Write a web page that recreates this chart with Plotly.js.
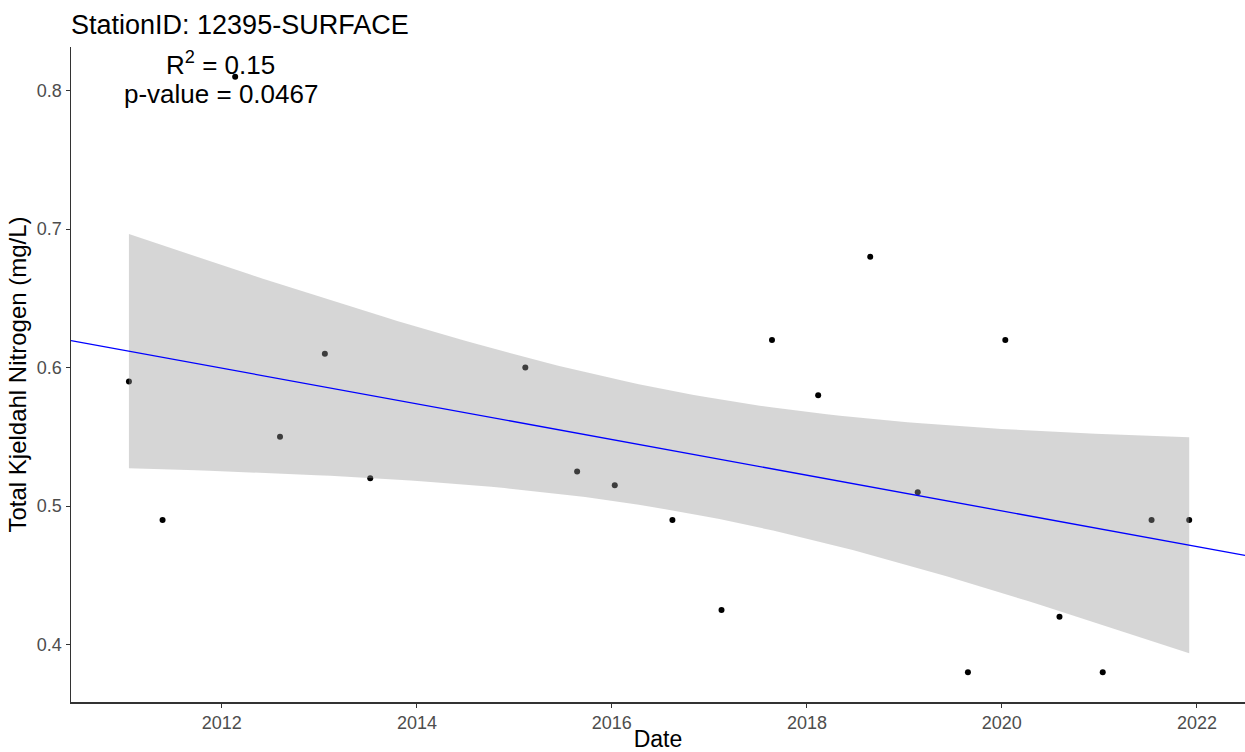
<!DOCTYPE html>
<html>
<head>
<meta charset="utf-8">
<script src="https://cdn.plot.ly/plotly-3.0.1.min.js"></script>
<style>html,body{margin:0;padding:0;background:#fff;}#chart{width:1245px;height:752px;}</style>
</head>
<body>
<div id="chart"></div>
<script>
// Sample dates and Total Kjeldahl Nitrogen values (mg/L)
const sampleDates = [
  "2011-01-18","2011-05-24","2012-02-20","2012-08-06","2013-01-21","2013-07-10",
  "2015-02-11","2015-08-24","2016-01-12","2016-08-15","2017-02-15","2017-08-23",
  "2018-02-12","2018-08-26","2019-02-20","2019-08-27","2020-01-14","2020-08-04",
  "2021-01-13","2021-07-15","2021-12-03"
];
const tknValues = [
  0.59, 0.49, 0.81, 0.55, 0.61, 0.52,
  0.60, 0.525, 0.515, 0.49, 0.425, 0.62,
  0.58, 0.68, 0.51, 0.38, 0.62, 0.42,
  0.38, 0.49, 0.49
];
const xTickVals = ["2012-01-01","2014-01-01","2016-01-01","2018-01-01","2020-01-01","2022-01-01"];
const xTickText = ["2012","2014","2016","2018","2020","2022"];
const yTickVals = [0.4, 0.5, 0.6, 0.7, 0.8];
const yTickText = ["0.4","0.5","0.6","0.7","0.8"];
const xRange = ["2010-06-15","2022-06-30"];
const yRange = [0.3585, 0.8315];
const statLines = ["R<sup>2</sup> = 0.15", "p-value = 0.0467"];

// Linear regression (lm) with 95% confidence band, computed from the data
const MS = 86400000;
const toMs = d => new Date(d + "T00:00:00Z").getTime();
const xs = sampleDates.map(d => toMs(d) / MS);
const n = xs.length;
const mx = xs.reduce((a, b) => a + b, 0) / n;
const my = tknValues.reduce((a, b) => a + b, 0) / n;
let sxx = 0, sxy = 0;
for (let i = 0; i < n; i++) { sxx += (xs[i] - mx) ** 2; sxy += (xs[i] - mx) * (tknValues[i] - my); }
const slope = sxy / sxx;
const icpt = my - slope * mx;
let rss = 0;
for (let i = 0; i < n; i++) rss += (tknValues[i] - (icpt + slope * xs[i])) ** 2;
const df = n - 2;
const s = Math.sqrt(rss / df);
const z = 1.959964;
const tq = z + (z**3 + z) / (4*df) + (5*z**5 + 16*z**3 + 3*z) / (96*df*df)
         + (3*z**7 + 19*z**5 + 17*z**3 - 15*z) / (384*df**3);
const toIso = v => new Date(v * MS).toISOString().slice(0, 10);
const xmin = Math.min(...xs), xmax = Math.max(...xs);
const bx = [], up = [], lo = [];
for (let k = 0; k < 80; k++) {
  const x = xmin + (xmax - xmin) * k / 79;
  const fit = icpt + slope * x;
  const h = tq * s * Math.sqrt(1 / n + (x - mx) ** 2 / sxx);
  bx.push(toIso(x)); up.push(fit + h); lo.push(fit - h);
}
const ribbonX = bx.concat(bx.slice().reverse());
const ribbonY = up.concat(lo.slice().reverse());
const lx = xRange.map(d => toMs(d) / MS);
const lineX = xRange;
const lineY = lx.map(x => icpt + slope * x);

const traces = [
  { x: sampleDates, y: tknValues, type: "scatter", mode: "markers",
    marker: { color: "#000000", size: 6 }, hoverinfo: "x+y" },
  { x: ribbonX, y: ribbonY, type: "scatter", mode: "lines", fill: "toself",
    fillcolor: "rgba(153,153,153,0.4)", line: { width: 0 }, hoverinfo: "skip" },
  { x: lineX, y: lineY, type: "scatter", mode: "lines",
    line: { color: "#0000ff", width: 1.3 }, hoverinfo: "skip" }
];

const layout = {
  width: 1245, height: 752,
  margin: { l: 71, r: 0, t: 47, b: 50 },
  paper_bgcolor: "#ffffff", plot_bgcolor: "#ffffff",
  showlegend: false,
  font: { family: "Liberation Sans, Arial, sans-serif", color: "#000" },
  title: { text: "StationID: 12395-SURFACE", font: { size: 27, color: "#000" },
           xref: "paper", x: 0, xanchor: "left", yref: "container", y: 1 - 25/752, yanchor: "middle" },
  xaxis: {
    type: "date", range: xRange, tickmode: "array", tickvals: xTickVals, ticktext: xTickText,
    showgrid: false, zeroline: false, showline: true, linecolor: "#333", linewidth: 1.5,
    ticks: "outside", ticklen: 4, tickcolor: "#333", tickwidth: 1,
    tickfont: { size: 18, color: "#4d4d4d" },
    title: { text: "Date", font: { size: 23, color: "#000" }, standoff: 0 }
  },
  yaxis: {
    range: yRange, tickmode: "array", tickvals: yTickVals, ticktext: yTickText,
    showgrid: false, zeroline: false, showline: true, linecolor: "#333", linewidth: 1.5,
    ticks: "outside", ticklen: 4, tickcolor: "#333", tickwidth: 1,
    tickfont: { size: 18, color: "#4d4d4d" },
    title: { text: "Total Kjeldahl Nitrogen (mg/L)", font: { size: 24, color: "#000" }, standoff: 3 }
  },
  annotations: [
    { text: statLines[0], xref: "x", yref: "y", x: "2011-12-28", y: 0.8193,
      xanchor: "center", yanchor: "middle", showarrow: false, font: { size: 26, color: "#000" } },
    { text: statLines[1], xref: "x", yref: "y", x: "2011-12-28", y: 0.7976,
      xanchor: "center", yanchor: "middle", showarrow: false, font: { size: 26, color: "#000" } }
  ]
};

Plotly.newPlot("chart", traces, layout, { displayModeBar: false, staticPlot: true });
</script>
</body>
</html>
